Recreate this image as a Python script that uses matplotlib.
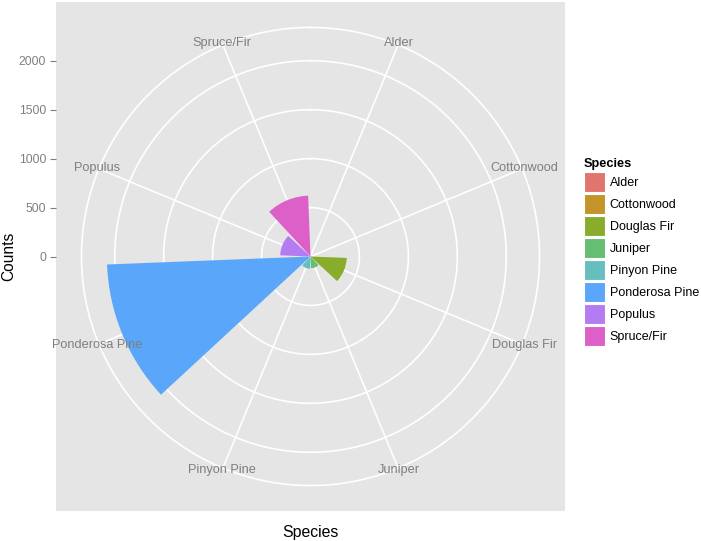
import numpy as np
import matplotlib
matplotlib.use("Agg")
import matplotlib.pyplot as plt
from matplotlib.patches import Patch

plt.rcParams['font.family'] = ['Liberation Sans', 'DejaVu Sans']

# data
species = ["Alder", "Cottonwood", "Douglas Fir", "Juniper",
           "Pinyon Pine", "Ponderosa Pine", "Populus", "Spruce/Fir"]
counts = [8, 12, 370, 120, 125, 2080, 310, 622]
colors = ["#E0756F", "#C49329", "#89AD2A", "#66BE72",
          "#66BFBE", "#5AA6FA", "#B47BF3", "#DC60C8"]
r_ticks = [0, 500, 1000, 1500, 2000]

grey_bg = "#E5E5E5"
grey_txt = "#7F7F7F"

fig = plt.figure(figsize=(7.01, 5.41), dpi=100)
rect = [56 / 701, 30 / 541, 509 / 701, 509 / 541]

# ggplot-style polar: data max sits at 0.4 of the panel, outer ring at 0.45
rmax = max(counts)
half = rmax / 0.8
outer = 0.9 * half

# background panel carrying the "Counts" axis
bg = fig.add_axes(rect)
bg.set_facecolor(grey_bg)
bg.set_xlim(-half, half)
bg.set_ylim(-half, half)
for s in bg.spines.values():
    s.set_visible(False)
bg.set_xticks([])
bg.set_yticks(r_ticks)
bg.set_yticklabels([str(t) for t in r_ticks])
bg.tick_params(axis="y", colors=grey_txt, labelsize=8.8, length=4, width=0.8, pad=3)
bg.set_ylabel("Counts", fontsize=11.2)
bg.yaxis.set_label_coords(-0.079, 0.5)
bg.set_xlabel("Species", fontsize=11.4, labelpad=10)

# polar layer
ax = fig.add_axes(rect, projection="polar", zorder=2)
ax.patch.set_alpha(0)
ax.spines["polar"].set_visible(False)
ax.set_theta_zero_location("N")
ax.set_theta_direction(-1)
ax.set_rlim(0, half)
ax.grid(False)
ax.set_xticks([])
ax.set_yticks([])

n = len(species)
step = 2 * np.pi / n
theta = np.arange(n) * step + step / 2

# grid: circles and spokes
tt = np.linspace(0, 2 * np.pi, 400)
for r in r_ticks[1:] + [outer]:
    ax.plot(tt, np.full_like(tt, r), color="white", lw=1.2, zorder=1)
for th in theta:
    ax.plot([th, th], [0, outer], color="white", lw=1.2, zorder=1)

ax.bar(theta, counts, width=0.9 * step, bottom=0, color=colors,
       edgecolor="none", zorder=3)

for th, name in zip(theta, species):
    ax.text(th, outer * 1.01, name, ha="center", va="center",
            color=grey_txt, fontsize=9.2, zorder=4)

handles = [Patch(facecolor=c, edgecolor="white", linewidth=0.8) for c in colors]
leg = fig.legend(handles, species, title="Species", loc="upper left",
                 bbox_to_anchor=(584 / 701, 1 - 158 / 541), frameon=False,
                 fontsize=9, title_fontsize=9.2, handlelength=1.7,
                 handleheight=2.1, labelspacing=0.15, handletextpad=0.35,
                 borderpad=0, borderaxespad=0, alignment="left")
leg.get_title().set_fontweight("bold")

fig.savefig("out.png", dpi=100)
